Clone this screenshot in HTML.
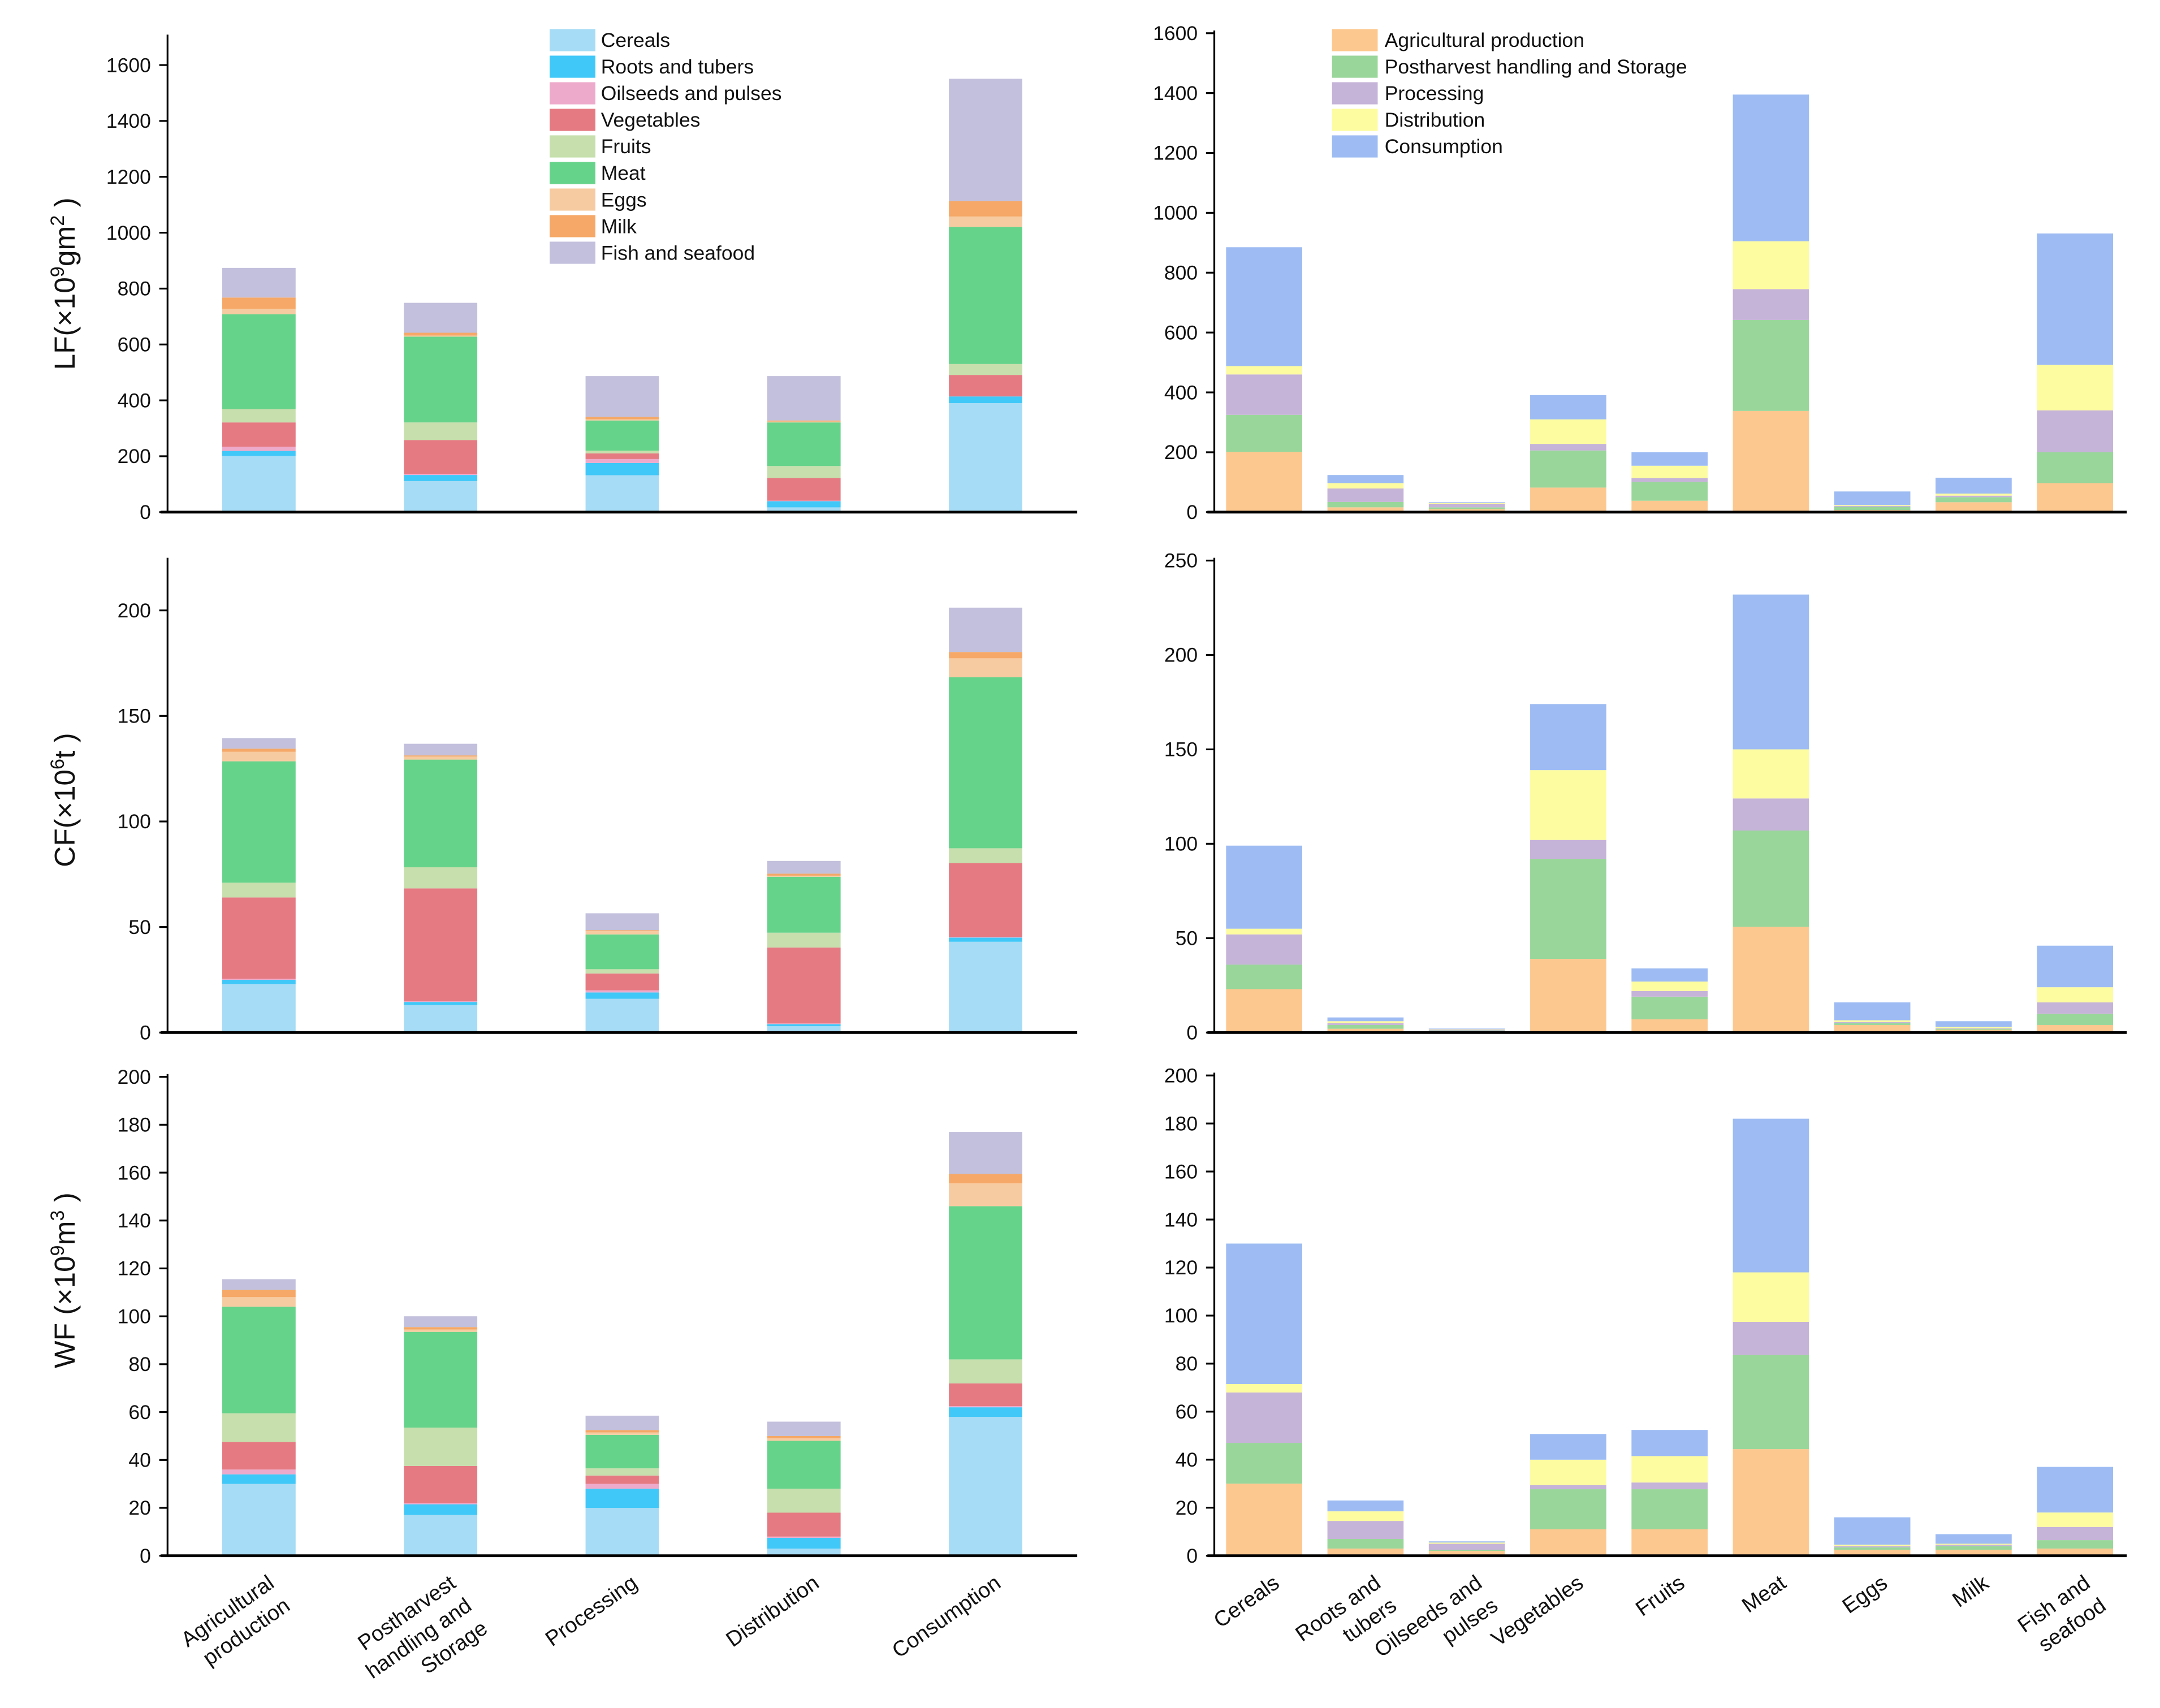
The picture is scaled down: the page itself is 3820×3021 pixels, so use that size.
<!DOCTYPE html>
<html><head><meta charset="utf-8"><style>
html,body{margin:0;padding:0;background:#fff;}
svg{display:block;font-family:"Liberation Sans",sans-serif;}
</style></head><body>
<svg id="chart" width="3820" height="3021" viewBox="0 0 1560 1234" preserveAspectRatio="none" xmlns="http://www.w3.org/2000/svg">
<rect x="0" y="0" width="1560" height="1234" fill="#fff"/>
</svg>
<script>
// ---- data ----
const stageCats = ["Agricultural production","Postharvest handling and Storage","Processing","Distribution","Consumption"];
const foodCats = ["Cereals","Roots and tubers","Oilseeds and pulses","Vegetables","Fruits","Meat","Eggs","Milk","Fish and seafood"];
const stageLabelLines = [["Agricultural","production"],["Postharvest","handling and","Storage"],["Processing"],["Distribution"],["Consumption"]];
const foodLabelLines = [["Cereals"],["Roots and","tubers"],["Oilseeds and","pulses"],["Vegetables"],["Fruits"],["Meat"],["Eggs"],["Milk"],["Fish and","seafood"]];
// Left charts: series = food groups, categories = stages
const lfByFood = [
 [201,111,132,17,390],[18,22,44,22,24],[15,4,14,2,0],[87,121,20,81,77],[48,63,10,43,39],
 [339,307,108,156,491],[20,4,4,3,37],[40,10,9,4,55],[106,107,146,159,438]];
const cfByFood = [
 [23,13,16,3,43],[2,1.5,3,1,2],[0.5,0.3,1,0.3,0.3],[38.5,53.5,8,36,35],[7,10,2,7,7],
 [57.5,51,16.5,26.5,81],[4.5,1.5,1.5,0.5,9],[1.5,0.5,0.5,1,3],[5,5.5,8,6,21]];
const wfByFood = [
 [30,17,20,3,58],[4,4.5,8,4.5,4],[2,0.5,2,0.5,0.5],[11.5,15.5,3.5,10,9.5],[12,16,3,10,10],
 [44.5,40,14,20,64],[4,1,1,1,9.5],[3,1,1,1,4],[4.5,4.5,6,6,17.5]];
// Right charts: series = stages, categories = food groups
const lfByStage = [
 [201,16,10,82,38,338,7,33,97],[124,18,6,124,63,304,11,17,103],[135,45,12,22,13,103,3,5,140],
 [28,18,2,82,41,160,3,7,152],[397,27,3,81,45,490,45,53,439]];
const cfByStage = [
 [23,2,0.8,39,7,56,4,1.5,4],[13,2,0.3,53,12,51,1,0.5,6],[16,1,0.5,10,3,17,0.5,0.3,6],
 [3,1,0.2,37,5,26,1,0.7,8],[44,2,0.3,35,7,82,9.5,3,22]];
const wfByStage = [
 [30,3,2,11,11,44.4,2.5,2.5,3],[17,4,0.5,16.7,16.7,39.2,1,1.5,3.5],[21,7.5,2.5,1.7,2.8,13.8,0.5,0.6,5.5],
 [3.5,4,0.5,10.6,11,20.6,0.6,0.4,6],[58.5,4.5,0.5,10.7,10.9,64,11.4,4,19]];
const ticksLF = [0,200,400,600,800,1000,1200,1400,1600];
const ticksCFLeft = [0,50,100,150,200];
const ticksCFRight = [0,50,100,150,200,250];
const ticksWF = [0,20,40,60,80,100,120,140,160,180,200];

const foodColors = ["#a6dcf5","#40c8f8","#eeaacb","#e57a82","#c6dfac","#66d38a","#f7cba1","#f5a867","#c2c0dc"];
const stageColors = ["#fdc88f","#99d69a","#c6b3d8","#fdfca0","#9ebcf3"];

const svg = document.getElementById('chart');
const NS = "http://www.w3.org/2000/svg";
function mk(tag, attrs, parent){
  const e = document.createElementNS(NS, tag);
  for (const k in attrs) e.setAttribute(k, attrs[k]);
  (parent||svg).appendChild(e);
  return e;
}

function panel(p){
  const g = mk('g', {});
  
  
  const y = v => p.y0 - (v / p.vmax) * (p.y0 - p.yTop);
  const nCat = p.series[0].length;
  const x = i => p.xFirst + i * p.xStep;
  // bars
  for (let c = 0; c < nCat; c++){
    let acc = 0;
    for (let s = 0; s < p.series.length; s++){
      const v = p.series[s][c];
      const r = mk('rect', {x: x(c) - p.bw/2, y: y(acc+v), width: p.bw, height: Math.max(0, y(acc)-y(acc+v)), fill: p.colors[s]}, g);
      
      
      acc += v;
    }
  }
  // axes
  const ya = mk('line', {x1: p.ax, x2: p.ax, y1: p.axTop, y2: p.y0, stroke:'#000', 'stroke-width':1.3}, g);
  
  
  const xa = mk('line', {x1: p.ax-5, x2: p.xEnd, y1: p.y0, y2: p.y0, stroke:'#000', 'stroke-width':2}, g);
  
  
  p.ticks.forEach(t => {
    mk('line', {x1: p.ax-6, x2: p.ax, y1: y(t), y2: y(t), stroke:'#000','stroke-width':1.3}, g);
    const tx = mk('text', {x: p.ax-12, y: y(t)+5, 'text-anchor':'end', 'font-size':14.5, fill:'#111'}, g);
    tx.textContent = t;
    
    
  });
  if (p.labels){
    p.labels.forEach((lines, c) => {
      const t = mk('text', {transform: `translate(${x(c)+p.lblDx},1146) rotate(-35)`, 'text-anchor':'end','font-size':15.5, fill:'#111'}, g);
      
      
      lines.forEach((ln, i) => {
        const ts = mk('tspan', {x: 0, dy: i===0 ? 0 : 20}, t);
        ts.textContent = ln;
      });
    });
  }
  return g;
}

const L = {ax:121, xEnd:778, xFirst:187, xStep:131.2, bw:53};
const R = {ax:877, xEnd:1536, xFirst:913, xStep:73.2, bw:55};
panel(Object.assign({name:'lf-by-stage-chart', short:'lf-stage', series:lfByFood, colors:foodColors, y0:370, yTop:47, vmax:1600, axTop:25, ticks:ticksLF}, L));
panel(Object.assign({name:'lf-by-food-chart', short:'lf-food', series:lfByStage, colors:stageColors, y0:370, yTop:24, vmax:1600, axTop:22, ticks:ticksLF}, R));
panel(Object.assign({name:'cf-by-stage-chart', short:'cf-stage', series:cfByFood, colors:foodColors, y0:746, yTop:441, vmax:200, axTop:403, ticks:ticksCFLeft}, L));
panel(Object.assign({name:'cf-by-food-chart', short:'cf-food', series:cfByStage, colors:stageColors, y0:746, yTop:405, vmax:250, axTop:403, ticks:ticksCFRight}, R));
panel(Object.assign({name:'wf-by-stage-chart', short:'wf-stage', series:wfByFood, colors:foodColors, y0:1124, yTop:778, vmax:200, axTop:776, ticks:ticksWF, labels:stageLabelLines, lblDx:12}, L));
panel(Object.assign({name:'wf-by-food-chart', short:'wf-food', series:wfByStage, colors:stageColors, y0:1124, yTop:777, vmax:200, axTop:775, ticks:ticksWF, labels:foodLabelLines, lblDx:12}, R));

// legends
function legend(names, colors, sx, tx, y0, nm){
  const g = mk('g', {});
  
  
  names.forEach((n, i) => {
    const yy = y0 + i*19.2;
    const r = mk('rect', {x: sx, y: yy, width: 33, height: 16, fill: colors[i]}, g);
    
    
    const t = mk('text', {x: tx, y: yy+13, 'font-size':14.5, fill:'#111'}, g);
    t.textContent = n;
    
    
  });
}
legend(foodCats, foodColors, 397, 434, 21, 'food-group-legend');
legend(stageCats, stageColors, 962, 1000, 21, 'stage-legend');

// y titles
function ytitle(cx, cy, parts, nm){
  const t = mk('text', {transform:`translate(${cx},${cy}) rotate(-90)`, 'text-anchor':'middle', 'font-size':21, fill:'#111'});
  
  
  parts.forEach(pr => {
    const ts = mk('tspan', pr.sup ? {'baseline-shift':'super','font-size':14} : {}, t);
    ts.textContent = pr.t;
  });
}
ytitle(54, 205, [{t:'LF(×10'},{t:'9',sup:1},{t:'gm'},{t:'2',sup:1},{t:' )'}], 'lf-y-axis-title');
ytitle(54, 578, [{t:'CF(×10'},{t:'6',sup:1},{t:'t )'}], 'cf-y-axis-title');
ytitle(54, 925, [{t:'WF (×10'},{t:'9',sup:1},{t:'m'},{t:'3',sup:1},{t:' )'}], 'wf-y-axis-title');
</script>
</body></html>
